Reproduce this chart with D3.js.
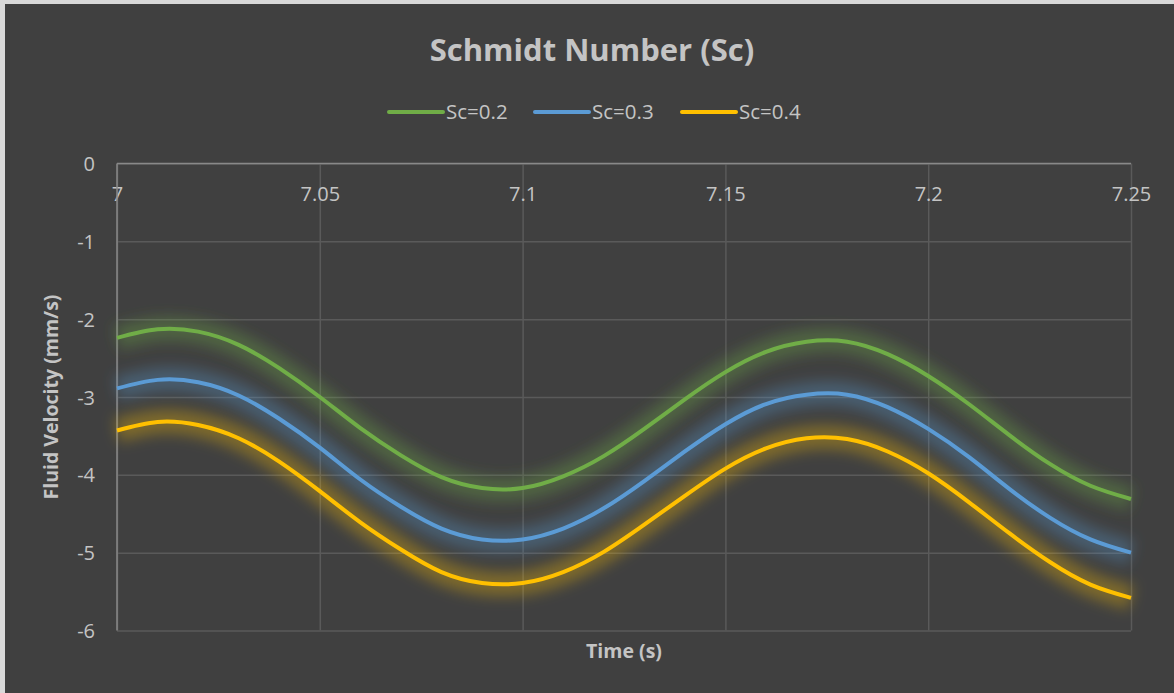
<!DOCTYPE html>
<html>
<head>
<meta charset="utf-8">
<script src="https://cdn.jsdelivr.net/npm/d3@7"></script>
<style>
  html, body { margin: 0; padding: 0; background: #d9d9d9; }
  svg { display: block; }
  text { font-family: "Open Sans", "Noto Sans", sans-serif; }
</style>
</head>
<body>
<svg id="chart" width="1174" height="693"></svg>
<script>
// Time samples (s)
const times = [7.00, 7.01, 7.02, 7.03, 7.04, 7.05, 7.06, 7.07, 7.08, 7.09, 7.10, 7.11, 7.12,
               7.13, 7.14, 7.15, 7.16, 7.17, 7.18, 7.19, 7.20, 7.21, 7.22, 7.23, 7.24, 7.25];

// Fluid velocity (mm/s) for each Schmidt number
const sc02 = [-2.24, -2.13, -2.16, -2.33, -2.63, -3.00, -3.40, -3.75, -4.03, -4.17, -4.17, -4.02, -3.76,
              -3.41, -3.03, -2.68, -2.42, -2.29, -2.29, -2.45, -2.73, -3.09, -3.49, -3.86, -4.14, -4.31];
const sc03 = [-2.89, -2.78, -2.81, -2.98, -3.28, -3.65, -4.06, -4.41, -4.69, -4.83, -4.83, -4.69, -4.43,
              -4.08, -3.70, -3.35, -3.09, -2.97, -2.97, -3.13, -3.41, -3.77, -4.18, -4.55, -4.83, -5.00];
const sc04 = [-3.43, -3.32, -3.36, -3.53, -3.83, -4.21, -4.61, -4.96, -5.25, -5.39, -5.39, -5.25, -4.99,
              -4.64, -4.27, -3.92, -3.66, -3.53, -3.54, -3.70, -3.98, -4.35, -4.75, -5.12, -5.41, -5.58];

const seriesNames = ["Sc=0.2", "Sc=0.3", "Sc=0.4"];
const seriesColors = ["#70AD47", "#5B9BD5", "#FFC000"];
const seriesValues = [sc02, sc03, sc04];

const xTicks = [7, 7.05, 7.1, 7.15, 7.2, 7.25];
const yTicks = [0, -1, -2, -3, -4, -5, -6];

const titleText = "Schmidt Number (Sc)";
const xTitle = "Time (s)";
const yTitle = "Fluid Velocity (mm/s)";

const W = 1174, H = 693;
const plot = { left: 117, right: 1131, top: 163.5, bottom: 630.5 };
const textColor = "#c4c4c4";

const svg = d3.select("#chart");

// chart frame
svg.append("rect").attr("x", 5).attr("y", 4).attr("width", W).attr("height", H).attr("fill", "#404040");

const x = d3.scaleLinear().domain([7, 7.25]).range([plot.left, plot.right]);
const y = d3.scaleLinear().domain([-6, 0]).range([plot.bottom, plot.top]);

// soft glow filter for the series lines
const defs = svg.append("defs");
defs.append("filter").attr("id", "glow")
  .attr("x", "-10%").attr("y", "-40%").attr("width", "120%").attr("height", "180%")
  .append("feGaussianBlur").attr("stdDeviation", 7);

// horizontal gridlines
const gy = svg.append("g").attr("transform", `translate(${plot.left},0)`)
  .call(d3.axisLeft(y).tickValues(yTicks).tickSize(-(plot.right - plot.left)).tickPadding(22));
gy.select(".domain").remove();
gy.selectAll(".tick line").attr("stroke", "#5a5a5a").attr("stroke-width", 1.5);
gy.selectAll(".tick text").attr("fill", textColor).attr("font-size", 20).attr("dy", "0.35em")
  .text(d => d === 0 ? "0" : "-" + Math.abs(d));

// vertical gridlines, labels just below the zero line
const gx = svg.append("g").attr("transform", `translate(0,${plot.top})`)
  .call(d3.axisBottom(x).tickValues(xTicks).tickSize(plot.bottom - plot.top).tickFormat(d => String(d)));
gx.select(".domain").remove();
gx.selectAll(".tick line").attr("stroke", "#5a5a5a").attr("stroke-width", 1.5);
gx.selectAll(".tick text").attr("fill", textColor).attr("font-size", 20)
  .attr("y", 30).attr("dy", "0.35em");

// axis lines at y = 0 and x = 7
svg.append("line").attr("x1", plot.left).attr("x2", plot.right).attr("y1", y(0)).attr("y2", y(0))
  .attr("stroke", "#898989").attr("stroke-width", 1.5);
svg.append("line").attr("x1", x(7)).attr("x2", x(7)).attr("y1", plot.top).attr("y2", plot.bottom)
  .attr("stroke", "#898989").attr("stroke-width", 1.5);

// series
const line = d3.line().x((d, i) => x(times[i])).y(d => y(d)).curve(d3.curveNatural);

seriesValues.forEach((vals, k) => {
  svg.append("path").datum(vals).attr("d", line)
    .attr("fill", "none").attr("stroke", seriesColors[k]).attr("stroke-width", 24)
    .attr("stroke-opacity", 0.32).attr("filter", "url(#glow)");
});
seriesValues.forEach((vals, k) => {
  svg.append("path").datum(vals).attr("d", line)
    .attr("fill", "none").attr("stroke", seriesColors[k]).attr("stroke-width", 4)
    .attr("stroke-linejoin", "round");
});

// title
svg.append("text").attr("x", 592).attr("y", 61).attr("text-anchor", "middle")
  .attr("fill", textColor).attr("font-size", 31).attr("font-weight", "bold").text(titleText);

// legend
const legendX = [389, 535, 682];
seriesNames.forEach((name, k) => {
  const lx = legendX[k];
  svg.append("line").attr("x1", lx).attr("x2", lx + 54).attr("y1", 112).attr("y2", 112)
    .attr("stroke", seriesColors[k]).attr("stroke-width", 4).attr("stroke-linecap", "round");
  svg.append("text").attr("x", lx + 57).attr("y", 112).attr("dy", "0.35em")
    .attr("fill", textColor).attr("font-size", 20.5).text(name);
});

// axis titles
svg.append("text").attr("x", (plot.left + plot.right) / 2).attr("y", 658).attr("text-anchor", "middle")
  .attr("fill", textColor).attr("font-size", 19.5).attr("font-weight", "bold").text(xTitle);
svg.append("text").attr("transform", `translate(58,${(plot.top + plot.bottom) / 2}) rotate(-90)`)
  .attr("text-anchor", "middle").attr("fill", textColor).attr("font-size", 19.5).attr("font-weight", "bold").text(yTitle);
</script>
</body>
</html>
